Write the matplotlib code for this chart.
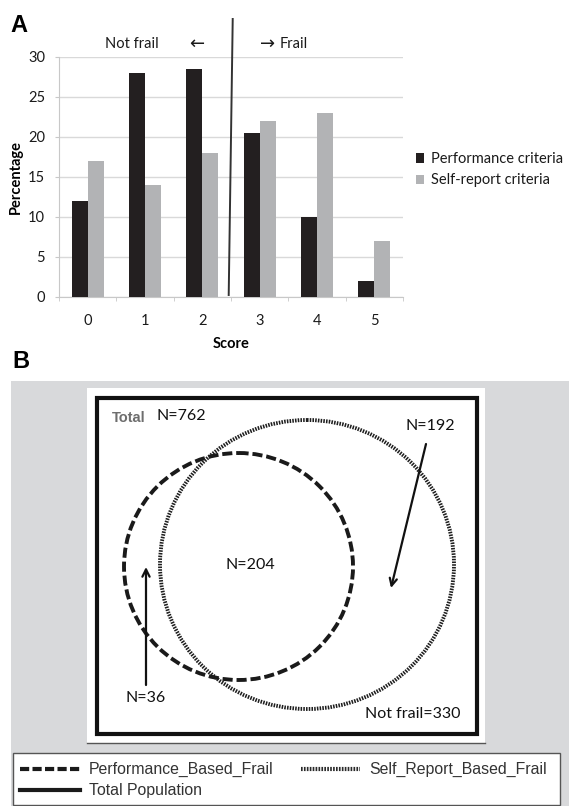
import matplotlib
matplotlib.use("Agg")
import matplotlib.pyplot as plt
from matplotlib.patches import Rectangle, Ellipse
import numpy as np

# ---------------- data ----------------
scores = [0, 1, 2, 3, 4, 5]
performance = [12, 28, 28.5, 20.5, 10, 2]
self_report = [17, 14, 18, 22, 23, 7]
series_names = ["Performance criteria", "Self-report criteria"]
yticks = [0, 5, 10, 15, 20, 25, 30]

venn_total = 762
venn_both = 204
venn_perf_only = 36
venn_self_only = 192
venn_not_frail = 330
venn_legend = ["Performance_Based_Frail", "Self_Report_Based_Frail", "Total Population"]

W, H = 569, 806
fig = plt.figure(figsize=(W / 100, H / 100), dpi=100)
fig.patch.set_facecolor("white")

CAL = ["Lato", "DejaVu Sans"]
ARI = ["Liberation Sans", "DejaVu Sans"]

def fx(px):
    return px / W

def fy(py):
    return 1 - py / H

# ---------------- Panel A ----------------
ax = fig.add_axes([fx(59), fy(297), fx(403) - fx(59), fy(57) - fy(297)])
x = np.arange(len(scores))
bw = 0.28
dark = "#231f20"
grey = "#b2b3b5"
ax.bar(x - bw / 2, performance, bw, color=dark, zorder=3, label=series_names[0])
ax.bar(x + bw / 2, self_report, bw, color=grey, zorder=3, label=series_names[1])
ax.set_xlim(-0.5, len(scores) - 0.5)
ax.set_ylim(0, 30)
ax.set_yticks(yticks)
ax.yaxis.grid(True, color="#d9d9d9", lw=1, zorder=0)
ax.set_axisbelow(True)
for s in ["top", "right"]:
    ax.spines[s].set_visible(False)
ax.spines["left"].set_color("#c8c8c8")
ax.spines["bottom"].set_color("#c8c8c8")
ax.set_xticks(x)
ax.set_xticklabels([str(s) for s in scores], fontfamily=CAL, fontsize=10.5, color="#1a1a1a")
ax.set_xticks(np.arange(-0.5, len(scores)), minor=True)
ax.tick_params(axis="x", which="major", length=0, pad=12)
ax.tick_params(axis="x", which="minor", length=3, color="#c8c8c8")
ax.tick_params(axis="y", length=3, color="#c8c8c8", pad=7)
for lab in ax.get_yticklabels():
    lab.set_fontfamily(CAL)
    lab.set_fontsize(10.5)
    lab.set_color("#1a1a1a")
ax.set_xlabel("Score", fontfamily=CAL, fontsize=10.5, fontweight="bold", labelpad=7)
ax.set_ylabel("Percentage", fontfamily=CAL, fontsize=10.5, fontweight="bold", labelpad=4)

# divider line
ax.plot([2.53, 2.46], [34.75, 0.25], color="#333333", lw=1.4, clip_on=False, zorder=5)
ax.text(0.77, 31.6, "Not frail", fontfamily=CAL, fontsize=10.5, color="#1a1a1a",
        ha="center", va="center")
ax.text(1.91, 31.6, "\u2190", fontfamily=["DejaVu Sans"], fontsize=13, color="#1a1a1a",
        ha="center", va="center")
ax.text(3.0, 31.6, "\u2192", fontfamily=["DejaVu Sans"], fontsize=13,
        color="#1a1a1a", ha="left", va="center")
ax.text(3.34, 31.6, "Frail", fontfamily=CAL, fontsize=10.5, color="#1a1a1a",
        ha="left", va="center")

leg = ax.legend(loc="center left", bbox_to_anchor=(1.02, 0.53), frameon=False,
                prop={"family": CAL, "size": 10.5}, handlelength=0.6, handleheight=0.6,
                handletextpad=0.45, labelspacing=0.5, borderaxespad=0)
for t in leg.get_texts():
    t.set_color("#1a1a1a")

fig.text(fx(10), fy(26), "A", fontfamily=ARI, fontsize=17, fontweight="bold",
         ha="left", va="center")
fig.text(fx(12), fy(361), "B", fontfamily=ARI, fontsize=17, fontweight="bold",
         ha="left", va="center")

# ---------------- Panel B ----------------
axb = fig.add_axes([0, 0, 1, 1])
axb.set_xlim(0, W)
axb.set_ylim(H, 0)
axb.axis("off")
axb.patch.set_alpha(0)

axb.add_patch(Rectangle((11, 381), W - 11, H - 381, facecolor="#d8d9db", edgecolor="none"))
axb.add_patch(Rectangle((87, 388), 485 - 87, 743 - 388, facecolor="white", edgecolor="none"))
axb.plot([87, 485], [743, 743], color="#555555", lw=1)
axb.add_patch(Rectangle((97, 398), 477 - 97, 734 - 398, facecolor="none",
                        edgecolor="#111111", lw=3.0, joinstyle="miter"))

dash_style = (0, (2.6, 1.0))
dot_style = (0, (0.4, 0.3))
axb.add_patch(Ellipse((238.5, 566.5), 229, 227, facecolor="none", edgecolor="#1a1a1a",
                      lw=2.8, linestyle=dash_style))
axb.add_patch(Ellipse((307, 564.5), 294, 289, facecolor="none", edgecolor="#1e1e1e",
                      lw=2.8, linestyle=dot_style))

axb.text(112, 418, "Total", fontfamily=ARI, fontsize=10.5, fontweight="bold",
         color="#6e6e6e", ha="left", va="center")
axb.text(157, 416, f"N={venn_total}", fontfamily=CAL, fontsize=11.5, color="#111111",
         ha="left", va="center")
axb.text(430, 426, f"N={venn_self_only}", fontfamily=CAL, fontsize=11.5, color="#111111",
         ha="center", va="center")
axb.text(250.5, 565, f"N={venn_both}", fontfamily=CAL, fontsize=11.5, color="#111111",
         ha="center", va="center")
axb.text(146, 698, f"N={venn_perf_only}", fontfamily=CAL, fontsize=11.5, color="#111111",
         ha="center", va="center")
axb.text(461, 714, f"Not frail={venn_not_frail}", fontfamily=CAL, fontsize=11.5,
         color="#111111", ha="right", va="center")

axb.annotate("", xy=(391, 588), xytext=(426, 444),
             arrowprops=dict(arrowstyle="->", lw=1.6, color="#111111",
                             mutation_scale=13, shrinkA=0, shrinkB=0))
axb.annotate("", xy=(146, 567), xytext=(146, 685),
             arrowprops=dict(arrowstyle="->", lw=1.6, color="#111111",
                             mutation_scale=13, shrinkA=0, shrinkB=0))

# legend box of panel B
axb.add_patch(Rectangle((13, 753), 560 - 13, 805 - 753, facecolor="white",
                        edgecolor="#555555", lw=1))
axb.plot([20, 80], [769, 769], color="#1a1a1a", lw=3, linestyle=(0, (2.2, 0.8)))
axb.plot([301, 360], [769, 769], color="#2a2a2a", lw=3, linestyle=dot_style)
axb.plot([20, 80], [790, 790], color="#1a1a1a", lw=3)
axb.text(89, 769, venn_legend[0], fontfamily=ARI, fontsize=11.4, color="#333333",
         ha="left", va="center")
axb.text(369, 769, venn_legend[1], fontfamily=ARI, fontsize=11.4, color="#333333",
         ha="left", va="center")
axb.text(89, 790, venn_legend[2], fontfamily=ARI, fontsize=11.4, color="#333333",
         ha="left", va="center")

fig.savefig("out.png", dpi=100)
